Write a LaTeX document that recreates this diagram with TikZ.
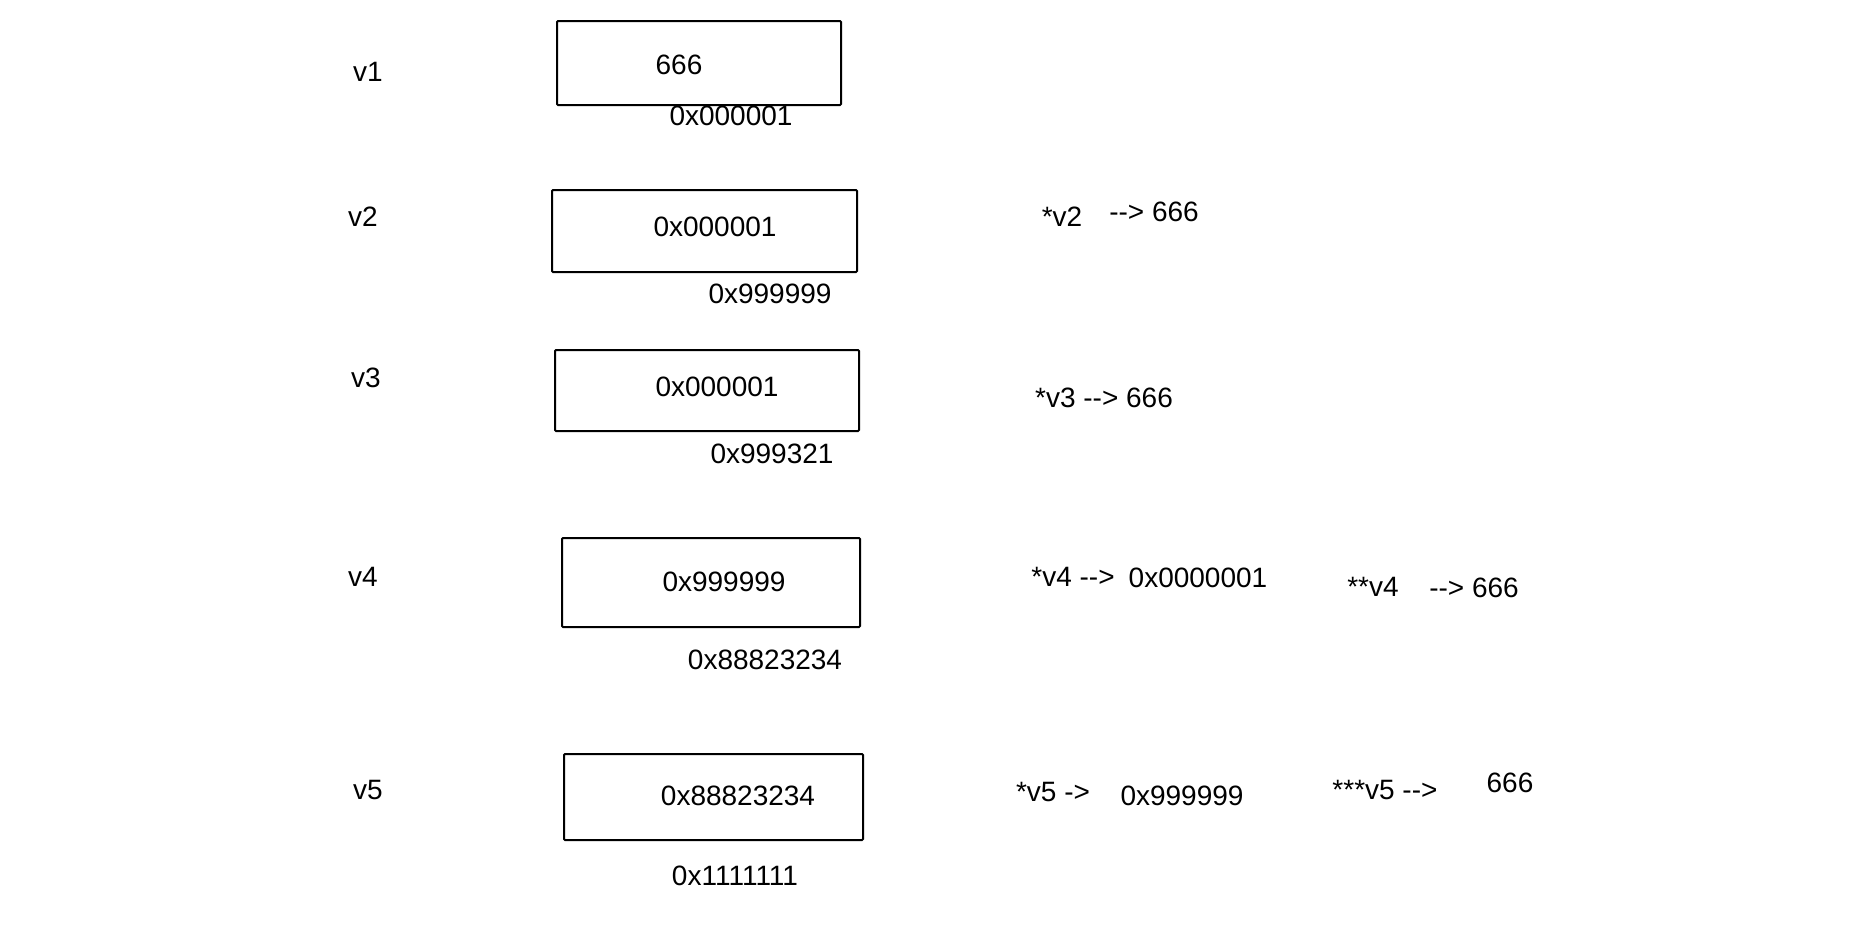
\documentclass[tikz,border=0pt]{standalone}
\usepackage{fontspec}
\newfontfamily\hand{Liberation Sans}
\begin{document}
\begin{tikzpicture}[
    x=0.5pt, y=-0.5pt,
    every node/.style={font=\hand\fontsize{14}{16}\selectfont, inner sep=0pt},
    cell/.style={draw, line width=1pt, rounded corners=0.5pt},
    note/.style={anchor=center}
]
\useasboundingbox[fill=white] (0,0) rectangle (1874,926);

% variable names
\node[note] (name1) at (368,72) {v1};
\node[note] (name2) at (363,217) {v2};
\node[note] (name3) at (366,378) {v3};
\node[note] (name4) at (363,577) {v4};
\node[note] (name5) at (368,790) {v5};

% memory cells
\node[cell, minimum width=142pt, minimum height=42pt] (cell1) at (699,63) {};
\node[cell, minimum width=152.5pt, minimum height=41pt] (cell2) at (704.5,231) {};
\node[cell, minimum width=152pt, minimum height=40.5pt] (cell3) at (707,390.5) {};
\node[cell, minimum width=149pt, minimum height=44.5pt] (cell4) at (711,582.5) {};
\node[cell, minimum width=149.5pt, minimum height=43pt] (cell5) at (713.5,797) {};

% stored values
\node[note] (val1) at (679,65) {666};
\node[note] (val2) at (715,227) {0x000001};
\node[note] (val3) at (717,387) {0x000001};
\node[note] (val4) at (724,582) {0x999999};
\node[note] (val5) at (738,796) {0x88823234};

% addresses
\node[note] (addr1) at (731,116) {0x000001};
\node[note] (addr2) at (770,294) {0x999999};
\node[note] (addr3) at (772,454) {0x999321};
\node[note] (addr4) at (765,660) {0x88823234};
\node[note] (addr5) at (735,876) {0x1111111};

% dereferences
\node[note] (deref2) at (1062,217) {*v2};
\node[note] (deref2b) at (1154,212) {--> 666};
\node[note] (deref3) at (1104,398) {*v3 --> 666};
\node[note] (deref4) at (1073,577) {*v4 -->};
\node[note] (deref4b) at (1198,578) {0x0000001};
\node[note] (dderef4) at (1373,587) {**v4};
\node[note] (dderef4b) at (1474,588) {--> 666};
\node[note] (deref5) at (1053,792) {*v5 ->};
\node[note] (deref5b) at (1182,796) {0x999999};
\node[note] (tderef5) at (1385,790) {***v5 -->};
\node[note] (tderef5b) at (1510,783) {666};
\end{tikzpicture}
\end{document}
